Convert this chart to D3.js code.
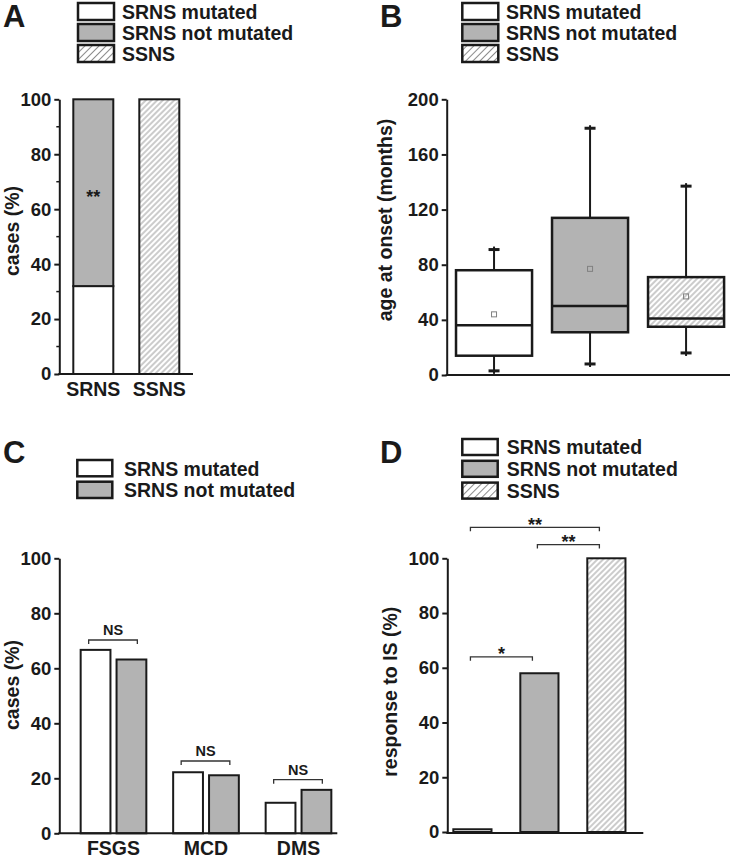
<!DOCTYPE html>
<html><head><meta charset="utf-8">
<script src="https://cdn.jsdelivr.net/npm/d3@7"></script>
<style>
body{margin:0;background:#fff}
svg{display:block}
text{font-family:"Liberation Sans",Arial,sans-serif}
</style>
</head><body>
<svg id="chart" width="737" height="857"></svg>
<script>
// ---------- DATA ----------
const legendLabels = ["SRNS mutated", "SRNS not mutated", "SSNS"];

// Panel A: stacked proportions of cases (%)
const panelACategories = ["SRNS", "SSNS"];
const panelAMutated = [32, 0];
const panelANotMutated = [68, 0];
const panelASSNS = [0, 100];
const panelATicks = [0, 20, 40, 60, 80, 100];
const panelAMinorTicks = [10, 30, 50, 70, 90];
const panelASignif = "**";

// Panel B: age at onset (months) box plots
const panelBGroups = ["SRNS mutated", "SRNS not mutated", "SSNS"];
const panelBMin = [3, 8, 16];
const panelBQ1 = [14, 31, 35];
const panelBMedian = [36, 50, 41];
const panelBQ3 = [76, 114, 71];
const panelBMax = [91, 179, 137];
const panelBMean = [44, 77, 57];
const panelBTicks = [0, 40, 80, 120, 160, 200];

// Panel C: histology, cases (%)
const panelCCategories = ["FSGS", "MCD", "DMS"];
const panelCSeries = ["SRNS mutated", "SRNS not mutated"];
const panelCMutated = [66.7, 22.2, 11.1];
const panelCNotMutated = [63.2, 21.1, 15.8];
const panelCSignif = ["NS", "NS", "NS"];
const panelCBracketLevel = [70.3, 26.3, 19.5];
const panelCTicks = [0, 20, 40, 60, 80, 100];

// Panel D: response to IS (%)
const panelDGroups = ["SRNS mutated", "SRNS not mutated", "SSNS"];
const panelDValues = [1, 58, 100];
const panelDTicks = [0, 20, 40, 60, 80, 100];
const panelDBrackets = [
  {from: 0, to: 1, level: 64, label: "*"},
  {from: 0, to: 2, level: 111.3, label: "**"},
  {from: 1, to: 2, level: 105, label: "**"}
];

// ---------- STYLE ----------
const INK = "#1a1a1a";
const GRAY = "#b3b3b3";
const svg = d3.select("#chart");
const defs = svg.append("defs");
function hatch(id, sp, sw, col) {
  const p = defs.append("pattern").attr("id", id).attr("patternUnits", "userSpaceOnUse")
    .attr("width", sp).attr("height", sp).attr("patternTransform", "rotate(45)");
  p.append("rect").attr("width", sp).attr("height", sp).attr("fill", "#fff");
  p.append("line").attr("x1", sp / 2).attr("x2", sp / 2).attr("y1", -1).attr("y2", sp + 1)
    .attr("stroke", col).attr("stroke-width", sw);
}
hatch("hatch", 4, 0.9, "#8c8c8c");
hatch("hatchLeg", 5, 1, "#8c8c8c");
const FILL = {"SRNS mutated": "#fff", "SRNS not mutated": GRAY, "SSNS": "url(#hatch)"};
const LEGFILL = {"SRNS mutated": "#fff", "SRNS not mutated": GRAY, "SSNS": "url(#hatchLeg)"};

function panelLetter(t, x, y) {
  svg.append("text").attr("x", x).attr("y", y).text(t)
    .attr("font-size", 31).attr("font-weight", "bold").attr("fill", INK);
}
function legend(labels, x, yTop, step, w, h, textX) {
  labels.forEach((l, i) => {
    svg.append("rect").attr("x", x).attr("y", yTop + i * step).attr("width", w).attr("height", h)
      .attr("fill", LEGFILL[l]).attr("stroke", INK).attr("stroke-width", 2.5);
    svg.append("text").attr("x", textX).attr("y", yTop + i * step + h - 0.8).text(l)
      .attr("font-size", 19.5).attr("font-weight", "bold").attr("fill", INK);
  });
}
function yAxis(scale, x, ticks, minor) {
  const g = svg.append("g").attr("transform", `translate(${x},0)`);
  g.call(d3.axisLeft(scale).tickValues(ticks).tickSize(5).tickSizeOuter(0).tickPadding(3).tickFormat(d3.format("d")));
  g.select(".domain").attr("stroke", INK).attr("stroke-width", 2);
  g.selectAll(".tick line").attr("stroke", INK).attr("stroke-width", 2);
  g.selectAll(".tick text").attr("font-size", 18.5).attr("font-weight", "bold").attr("fill", INK)
    .attr("font-family", '"Liberation Sans",Arial,sans-serif');
  if (minor) {
    g.selectAll(".minor").data(minor).join("line").attr("class", "minor")
      .attr("x1", -3).attr("x2", 0).attr("y1", d => scale(d)).attr("y2", d => scale(d))
      .attr("stroke", INK).attr("stroke-width", 1.5);
  }
}
function xLine(x0, x1, y) {
  svg.append("line").attr("x1", x0 - 1).attr("x2", x1).attr("y1", y).attr("y2", y)
    .attr("stroke", INK).attr("stroke-width", 2);
}
function yTitle(t, x, y) {
  svg.append("text").attr("transform", `translate(${x},${y}) rotate(-90)`).attr("text-anchor", "middle")
    .text(t).attr("font-size", 19.5).attr("font-weight", "bold").attr("fill", INK);
}
function bracket(x0, x1, y, tip) {
  svg.append("path").attr("d", `M${x0},${y + tip}V${y}H${x1}V${y + tip}`)
    .attr("fill", "none").attr("stroke", "#333").attr("stroke-width", 1.3);
}

// ---------- PANEL A ----------
panelLetter("A", 3, 27);
legend(legendLabels, 78, 3, 21, 36, 17, 122);
const yA = d3.scaleLinear([0, 100], [374, 99.3]);
const xA = d3.scaleBand(panelACategories, [60.3, 192.3]).paddingInner(0.394).paddingOuter(0.197);
const rowsA = panelACategories.map((c, i) => ({cat: c, "SRNS mutated": panelAMutated[i], "SRNS not mutated": panelANotMutated[i], "SSNS": panelASSNS[i]}));
const stackA = d3.stack().keys(legendLabels)(rowsA);
stackA.forEach(layer => {
  layer.forEach(d => {
    if (d[1] - d[0] <= 0) return;
    svg.append("rect").attr("x", xA(d.data.cat)).attr("width", xA.bandwidth())
      .attr("y", yA(d[1])).attr("height", yA(d[0]) - yA(d[1]))
      .attr("fill", FILL[layer.key]).attr("stroke", INK).attr("stroke-width", 2);
  });
});
{
  const seg = stackA[1][0];
  svg.append("text").attr("x", xA("SRNS") + xA.bandwidth() / 2).attr("y", yA((seg[0] + seg[1]) / 2) + 10)
    .attr("text-anchor", "middle").text(panelASignif).attr("font-size", 18).attr("font-weight", "bold").attr("fill", INK);
}
yAxis(yA, 59.3, panelATicks, panelAMinorTicks);
xLine(59.3, 193, yA(0));
panelACategories.forEach(c => {
  svg.append("text").attr("x", xA(c) + xA.bandwidth() / 2).attr("y", 396).attr("text-anchor", "middle")
    .text(c).attr("font-size", 19.5).attr("font-weight", "bold").attr("fill", INK);
});
yTitle("cases (%)", 18.5, 231);

// ---------- PANEL B ----------
panelLetter("B", 380, 27);
legend(legendLabels, 462.3, 3, 21, 36, 17, 506);
const yB = d3.scaleLinear([0, 200], [375, 99.3]);
const xB = d3.scaleBand(panelBGroups, [446.7, 733.4]).paddingInner(0.208).paddingOuter(0.097);
panelBGroups.forEach((gname, i) => {
  const x0 = xB(gname), bw = xB.bandwidth(), cx = x0 + bw / 2;
  // whiskers
  svg.append("line").attr("x1", cx).attr("x2", cx).attr("y1", yB(panelBMax[i]) - 3).attr("y2", yB(panelBQ3[i]))
    .attr("stroke", INK).attr("stroke-width", 2);
  svg.append("line").attr("x1", cx).attr("x2", cx).attr("y1", yB(panelBQ1[i])).attr("y2", yB(panelBMin[i]) + 3)
    .attr("stroke", INK).attr("stroke-width", 2);
  [panelBMax[i], panelBMin[i]].forEach(v => {
    svg.append("line").attr("x1", cx - 5.5).attr("x2", cx + 5.5).attr("y1", yB(v)).attr("y2", yB(v))
      .attr("stroke", INK).attr("stroke-width", 3);
  });
  // box
  svg.append("rect").attr("x", x0).attr("width", bw).attr("y", yB(panelBQ3[i]))
    .attr("height", yB(panelBQ1[i]) - yB(panelBQ3[i]))
    .attr("fill", FILL[gname]).attr("stroke", INK).attr("stroke-width", 2.5);
  svg.append("line").attr("x1", x0).attr("x2", x0 + bw).attr("y1", yB(panelBMedian[i])).attr("y2", yB(panelBMedian[i]))
    .attr("stroke", INK).attr("stroke-width", 2.5);
  svg.append("rect").attr("x", cx - 2.5).attr("y", yB(panelBMean[i]) - 2.5).attr("width", 5).attr("height", 5)
    .attr("fill", "none").attr("stroke", "#808080").attr("stroke-width", 1);
});
yAxis(yB, 446.7, panelBTicks);
xLine(446.7, 730, yB(0));
yTitle("age at onset (months)", 391.5, 220);

// ---------- PANEL C ----------
panelLetter("C", 3, 462.7);
legend(panelCSeries, 77.3, 460, 21.7, 35, 16.3, 124);
const yC = d3.scaleLinear([0, 100], [833.3, 558.3]);
const x0C = d3.scaleBand(panelCCategories, [59.3, 352.7]).paddingInner(0.29).paddingOuter(0.231);
const x1C = d3.scaleBand(panelCSeries, [0, x0C.bandwidth()]).paddingInner(0.17).paddingOuter(0);
const seriesC = {"SRNS mutated": panelCMutated, "SRNS not mutated": panelCNotMutated};
panelCCategories.forEach((c, i) => {
  panelCSeries.forEach(s => {
    const v = seriesC[s][i];
    svg.append("rect").attr("x", x0C(c) + x1C(s)).attr("width", x1C.bandwidth())
      .attr("y", yC(v)).attr("height", yC(0) - yC(v))
      .attr("fill", FILL[s]).attr("stroke", INK).attr("stroke-width", 2);
  });
  const bx0 = x0C(c) + 8, bx1 = x0C(c) + x0C.bandwidth() - 9, by = yC(panelCBracketLevel[i]);
  bracket(bx0, bx1, by, 4);
  svg.append("text").attr("x", (bx0 + bx1) / 2).attr("y", by - 5).attr("text-anchor", "middle")
    .text(panelCSignif[i]).attr("font-size", 14.5).attr("font-weight", "bold").attr("fill", INK);
  svg.append("text").attr("x", x0C(c) + x0C.bandwidth() / 2).attr("y", 854.5).attr("text-anchor", "middle")
    .text(c).attr("font-size", 19.5).attr("font-weight", "bold").attr("fill", INK);
});
yAxis(yC, 59.3, panelCTicks);
xLine(59.3, 337.3, yC(0));
yTitle("cases (%)", 18.5, 685);

// ---------- PANEL D ----------
panelLetter("D", 380, 463);
legend(legendLabels, 462.3, 439, 21.8, 35.4, 16, 506.7);
const yD = d3.scaleLinear([0, 100], [832, 558.3]);
const xD = d3.scaleBand(panelDGroups, [447.3, 631.5]).paddingInner(0.43).paddingOuter(0.09);
panelDGroups.forEach((gname, i) => {
  const v = panelDValues[i];
  svg.append("rect").attr("x", xD(gname)).attr("width", xD.bandwidth())
    .attr("y", yD(v)).attr("height", yD(0) - yD(v))
    .attr("fill", FILL[gname]).attr("stroke", INK).attr("stroke-width", 2);
});
panelDBrackets.forEach(b => {
  const cx0 = xD(panelDGroups[b.from]) + xD.bandwidth() / 2 - 2;
  const cx1 = xD(panelDGroups[b.to]) + xD.bandwidth() / 2 - 7;
  const by = yD(b.level);
  bracket(cx0, cx1, by, 4);
  svg.append("text").attr("x", (cx0 + cx1) / 2).attr("y", by + 3.5).attr("text-anchor", "middle")
    .text(b.label).attr("font-size", 18).attr("font-weight", "bold").attr("fill", INK);
});
yAxis(yD, 447.3, panelDTicks);
xLine(447.3, 643.3, yD(0) + 1);
yTitle("response to  IS (%)", 396.5, 691.7);
</script>
</body></html>
